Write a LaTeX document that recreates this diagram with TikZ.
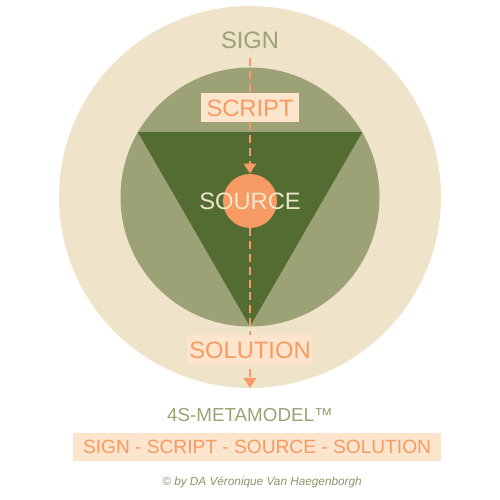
\documentclass[tikz,border=0pt]{standalone}
\usepackage{fontspec}
\setmainfont{Liberation Sans}
\usetikzlibrary{positioning, shapes, arrows.meta}
\definecolor{sand}{HTML}{EFE3C9}
\definecolor{sage}{HTML}{9CA276}
\definecolor{moss}{HTML}{526C32}
\definecolor{apricot}{HTML}{F79A63}
\definecolor{peach}{HTML}{FDE4CC}
\definecolor{cream}{HTML}{F0E6CC}

\begin{document}
\begin{tikzpicture}[
    word/.style={font=\fontsize{13.5}{16}\selectfont},
    tag/.style={word, fill=peach, text=apricot, inner sep=0pt, minimum height=0.58cm},
    flow/.style={apricot, line width=1.4pt, dash pattern=on 4.5pt off 2.8pt, -{Triangle[length=2mm, width=2.4mm]}}
]
    \useasboundingbox (0,0) rectangle (10,10);
    \node[circle, fill=sand, inner sep=0pt, minimum size=7.64cm] (outer) at (5,6.06) {};
    \node[circle, fill=sage, inner sep=0pt, minimum size=5.18cm] (inner) at (outer) {};
    \node[regular polygon, regular polygon sides=3, shape border rotate=180, fill=moss, inner sep=0pt, minimum size=5.18cm] (tri) at (inner) {};
    \node[circle, fill=apricot, inner sep=0pt, minimum size=1.08cm] (source) at (5,5.98) {};
    \node[word, text=cream] (sourcetext) at (source) {SOURCE};
    \node[word, text=sage] (sign) at (5,9.2) {SIGN};
    \coordinate (flowtop) at (5,8.84);
    \coordinate (flowend) at (5,2.24);
    \draw[flow] (flowtop) -- (source.north);
    \draw[flow] (source.south) -- (flowend);
    \node[tag, minimum width=1.96cm] (script) at (5,7.84) {SCRIPT};
    \node[tag, minimum width=2.52cm, minimum height=0.6cm] (solution) at (5,3.0) {SOLUTION};
    % legend below the circles
    \node[font=\fontsize{10.7}{13}\selectfont, text=sage] (model) at (5,1.7) {4S-METAMODEL™};
    \node[fill=peach, text=apricot, inner sep=0pt, minimum width=7.36cm, minimum height=0.56cm, font=\fontsize{10.9}{13}\selectfont] (chain) at (5.14,1.06) {SIGN - SCRIPT - SOURCE - SOLUTION};
    \node[font=\fontsize{6.7}{8}\selectfont\itshape, text=sage!90!black] (credit) at (5.24,0.36) {© by DA Véronique Van Haegenborgh};
\end{tikzpicture}
\end{document}
